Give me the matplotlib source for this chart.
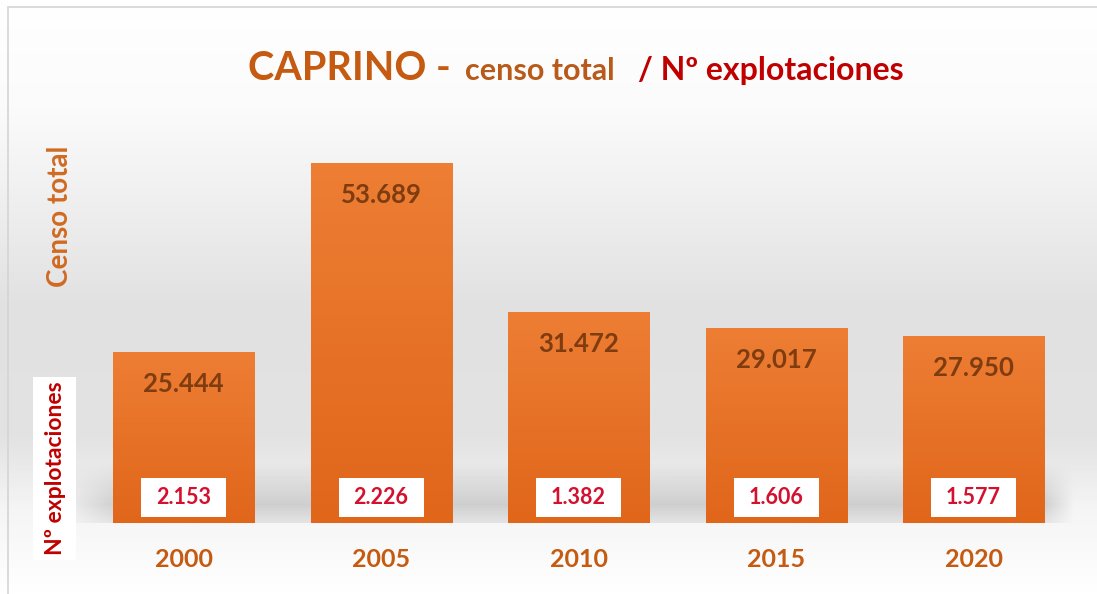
import numpy as np
import matplotlib.pyplot as plt
from matplotlib.colors import LinearSegmentedColormap
from matplotlib.patches import Rectangle
from matplotlib.transforms import blended_transform_factory

years = ['2000', '2005', '2010', '2015', '2020']
censo = [25444, 53689, 31472, 29017, 27950]
explot = [2153, 2226, 1382, 1606, 1577]
censo_lbl = ['25.444', '53.689', '31.472', '29.017', '27.950']
explot_lbl = ['2.153', '2.226', '1.382', '1.606', '1.577']

plt.rcParams['font.family'] = ['Lato', 'DejaVu Sans']
plt.rcParams['font.weight'] = 'bold'

W, H = 1097, 594
fig = plt.figure(figsize=(W / 100, H / 100), dpi=100)

# background: white top, grey middle, white bottom
bg = fig.add_axes([0, 0, 1, 1], zorder=-10)
bg_cmap = LinearSegmentedColormap.from_list('bg', [
    (0.0, '#ffffff'), (0.18, '#fbfbfb'), (0.38, '#ececec'), (0.52, '#e1e1e1'),
    (0.74, '#e3e3e3'), (0.86, '#f5f5f5'), (1.0, '#ffffff')])
bg.imshow(np.linspace(0, 1, 400)[:, None], cmap=bg_cmap, aspect='auto',
          extent=[0, 1, 0, 1], origin='upper')

# soft floor shadow behind the bars
sy = np.linspace(0, 1, 60)
prof_y = np.interp(sy, [0, 0.7, 1], [0.0, 0.24, 0.12])
sx = np.linspace(0, 1, 400)
prof_x = np.interp(sx, [0, 0.04, 0.97, 1], [0.3, 1, 1, 0])
shadow = np.zeros((60, 400, 4))
shadow[..., :3] = 0.35
shadow[..., 3] = prof_y[:, None] * prof_x[None, :]
bg.imshow(shadow, aspect='auto', origin='upper',
          extent=[75 / W, 1075 / W, 1 - 523 / H, 1 - 463 / H])
bg.set_xlim(0, 1)
bg.set_ylim(0, 1)
bg.axis('off')
# thin frame
bg.add_patch(Rectangle((8 / W, -0.01), 1.0, 1 - 7 / H + 0.01, fill=False,
                       ec='#d4d4d4', lw=1.2))

ax = fig.add_axes([0.0773, 0.1195, 0.9002, 0.6773])
ax.set_facecolor('none')
for s in ax.spines.values():
    s.set_visible(False)
ax.set_yticks([])

bars = ax.bar(range(len(years)), censo, width=0.714, color='#EA7430', zorder=2)
bar_cmap = LinearSegmentedColormap.from_list('bar', ['#ED7E34', '#E0661A'])
for b in bars:
    im = ax.imshow(np.linspace(0, 1, 100)[:, None], cmap=bar_cmap, aspect='auto',
                   origin='upper', zorder=3,
                   extent=[b.get_x(), b.get_x() + b.get_width(), 0, b.get_height()])
    im.set_clip_path(b)
ax.set_xlim(-0.5, 4.5)
ax.set_ylim(0, 60000)

ax.set_xticks(range(len(years)))
ax.set_xticklabels(years)
ax.tick_params(axis='x', length=0, pad=18, labelsize=18, labelcolor='#C55A11')

for i, v in enumerate(censo):
    ax.annotate(censo_lbl[i], (i, v), xytext=(0, -32), textcoords='offset pixels',
                ha='center', va='center', fontsize=18.5, color='#7F3C10', zorder=5)

tr = blended_transform_factory(ax.transData, ax.transAxes)
for i in range(len(explot)):
    ax.add_patch(Rectangle((i - 0.215, 0.015), 0.43, 0.097, transform=tr,
                           fc='white', ec='none', zorder=4))
    ax.text(i, 0.0635, explot_lbl[i], transform=tr, ha='center', va='center',
            fontsize=15.5, color='#D4102E', zorder=5)

# title in pieces
base = 1 - 80 / H
fig.text(248 / W, base, 'CAPRINO -', fontsize=28.5, color='#C55A11', va='baseline')
fig.text(465 / W, base, 'censo total', fontsize=22, color='#B85A1A', va='baseline')
fig.text(638 / W, base, '/ Nº explotaciones', fontsize=23, color='#C00000', va='baseline')

# side labels
fig.text(60 / W, 1 - 216 / H, 'Censo total', rotation=90, fontsize=20,
         color='#D06A22', ha='center', va='center')
fig.add_artist(Rectangle((33 / W, 1 - 560 / H), 43 / W, 183 / H,
                         transform=fig.transFigure, fc='white', ec='none'))
fig.text(56 / W, 1 - 468 / H, 'Nº explotaciones', rotation=90, fontsize=16.5,
         color='#C00000', ha='center', va='center')

fig.savefig('out.png', dpi=100)
